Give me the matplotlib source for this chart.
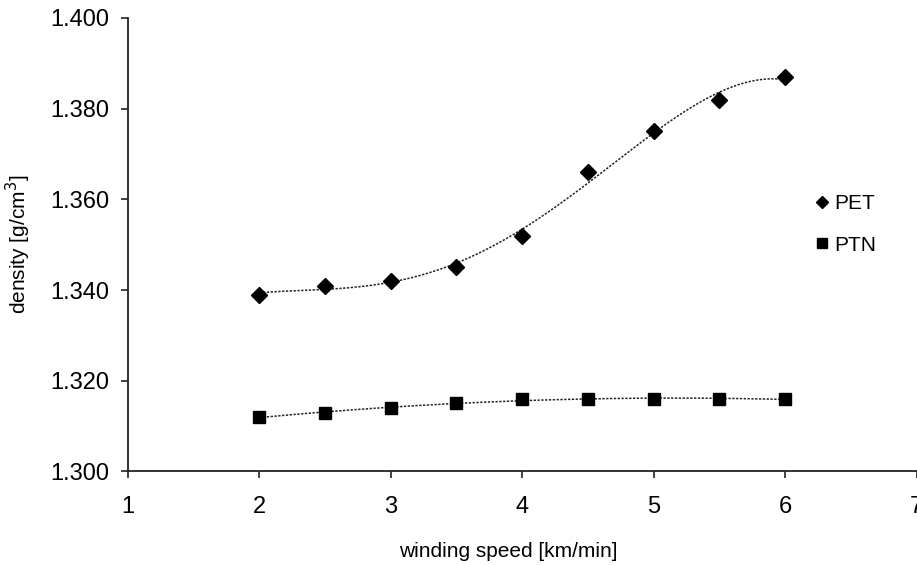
import numpy as np
import matplotlib
matplotlib.use('Agg')
import matplotlib.pyplot as plt

plt.rcParams['font.family'] = ['Liberation Sans', 'DejaVu Sans']

# data
speed = [2, 2.5, 3, 3.5, 4, 4.5, 5, 5.5, 6]
pet = [1.339, 1.341, 1.342, 1.345, 1.352, 1.366, 1.375, 1.382, 1.387]
ptn = [1.312, 1.313, 1.314, 1.315, 1.316, 1.316, 1.316, 1.316, 1.316]
x_ticks = [1, 2, 3, 4, 5, 6, 7]
y_ticks = [1.300, 1.320, 1.340, 1.360, 1.380, 1.400]

fig = plt.figure(figsize=(9.17, 5.65), dpi=100)
ax = fig.add_axes([0.1393, 0.1655, 0.8604, 0.8027])

# trend lines (polynomial fit)
xs = np.linspace(2, 6, 200)
c_pet = np.polyfit(speed, pet, 4)
c_ptn = np.polyfit(speed, ptn, 3)
ax.plot(xs, np.polyval(c_pet, xs), color='#222222', lw=1.1, ls=(0, (1.5, 1)))
ax.plot(xs, np.polyval(c_ptn, xs), color='#222222', lw=1.1, ls=(0, (1.5, 1)))

ax.plot(speed, pet, 'D', color='black', ms=8, ls='none', label='PET')
ax.plot(speed, ptn, 's', color='black', ms=9, ls='none', label='PTN')

ax.set_xlim(1, 7)
ax.set_ylim(1.300, 1.400)
ax.set_xticks(x_ticks)
ax.set_yticks(y_ticks)
ax.set_yticklabels([f'{v:.3f}' for v in y_ticks])
ax.tick_params(axis='both', direction='out', length=5, width=1.2, labelsize=17, color='#222222')
ax.tick_params(axis='x', pad=13)
ax.tick_params(axis='y', pad=8)

for s in ['top', 'right']:
    ax.spines[s].set_visible(False)
for s in ['left', 'bottom']:
    ax.spines[s].set_linewidth(1.3)
    ax.spines[s].set_color('#222222')

ax.set_xlabel('winding speed [km/min]', fontsize=15)
ax.xaxis.set_label_coords(0.482, -0.155)
ax.set_ylabel('density [g/cm$^3$]', fontsize=15)
ax.yaxis.set_label_coords(-0.12, 0.5)

ax.legend(loc='center left', bbox_to_anchor=(0.848, 0.545), frameon=False, fontsize=15,
          handlelength=0.6, handletextpad=0.3, labelspacing=1.1, markerscale=0.8)

fig.savefig('out.png', dpi=100)
